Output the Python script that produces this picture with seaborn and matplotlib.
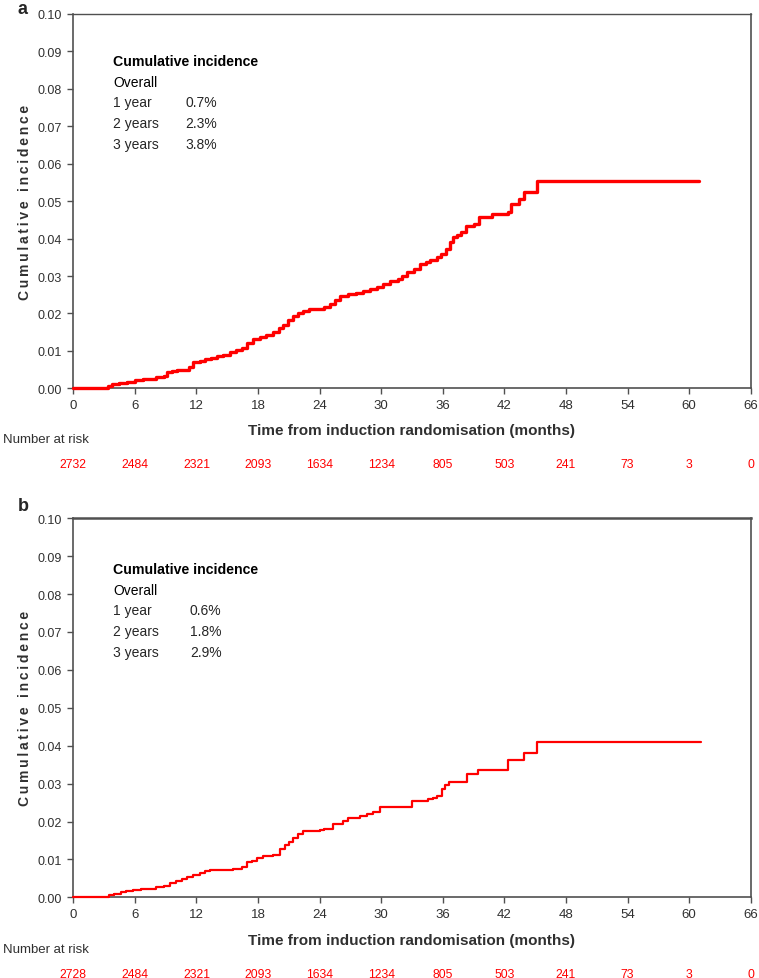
import matplotlib
matplotlib.use("Agg")
import matplotlib.pyplot as plt
import numpy as np
import pandas as pd
import seaborn as sns

# Cumulative incidence step curves (months, incidence)
months_a = [0, 3.4, 3.8, 4.5, 5.2, 6.0, 6.8, 7.6, 8.1, 8.8, 9.1, 9.6, 10.1, 10.8,
            11.3, 11.7, 12.3, 12.8, 13.4, 14.0, 14.6, 15.3, 15.9, 16.4, 16.9, 17.5,
            18.2, 18.8, 19.5, 20.0, 20.4, 20.9, 21.4, 21.9, 22.4, 23.0, 23.7, 24.4,
            25.0, 25.5, 26.0, 26.8, 27.5, 28.2, 28.9, 29.6, 30.2, 30.9, 31.6, 32.0,
            32.5, 33.2, 33.8, 34.4, 34.8, 35.4, 35.8, 36.3, 36.7, 37.0, 37.4, 37.8,
            38.3, 39.0, 39.5, 40.8, 42.4, 42.6, 43.4, 43.9, 45.2, 61.0]
cuminc_a = [0, 0.0006, 0.0011, 0.0015, 0.0018, 0.0022, 0.0024, 0.0026, 0.0029, 0.0034,
            0.0043, 0.0046, 0.0048, 0.0050, 0.0058, 0.0069, 0.0072, 0.0077, 0.0082,
            0.0087, 0.0089, 0.0096, 0.0101, 0.0108, 0.0120, 0.0132, 0.0137, 0.0142,
            0.0150, 0.0160, 0.0170, 0.0182, 0.0194, 0.0201, 0.0207, 0.0211, 0.0213,
            0.0216, 0.0226, 0.0236, 0.0247, 0.0251, 0.0255, 0.0259, 0.0265, 0.0270,
            0.0278, 0.0287, 0.0292, 0.0300, 0.0310, 0.0320, 0.0332, 0.0337, 0.0344,
            0.0350, 0.0358, 0.0372, 0.0390, 0.0403, 0.0410, 0.0417, 0.0434, 0.0440,
            0.0457, 0.0466, 0.0470, 0.0492, 0.0506, 0.0524, 0.0553, 0.0553]

months_b = [0, 3.5, 4.0, 4.6, 5.1, 5.8, 6.6, 7.5, 8.1, 8.8, 9.4, 10.0, 10.6, 11.1,
            11.7, 12.3, 12.8, 13.3, 15.6, 16.4, 16.9, 17.4, 17.9, 18.5, 19.5, 20.1,
            20.6, 21.0, 21.4, 21.9, 22.4, 23.2, 24.0, 24.4, 25.3, 26.3, 26.8, 27.9,
            28.6, 29.2, 29.9, 33.0, 34.6, 35.0, 35.4, 35.9, 36.2, 36.6, 38.4, 39.4,
            42.4, 43.9, 45.2, 61.2]
cuminc_b = [0, 0.0005, 0.0009, 0.0013, 0.0016, 0.0018, 0.0021, 0.0023, 0.0026, 0.0031,
            0.0038, 0.0043, 0.0048, 0.0053, 0.0059, 0.0064, 0.0069, 0.0073, 0.0075,
            0.0079, 0.0092, 0.0097, 0.0103, 0.0108, 0.0112, 0.0127, 0.0138, 0.0147,
            0.0156, 0.0166, 0.0174, 0.0176, 0.0178, 0.0180, 0.0193, 0.0202, 0.0208,
            0.0215, 0.0220, 0.0224, 0.0237, 0.0255, 0.0259, 0.0263, 0.0268, 0.0286,
            0.0296, 0.0305, 0.0325, 0.0337, 0.0363, 0.0381, 0.0411, 0.0411]

risk_months = [0, 6, 12, 18, 24, 30, 36, 42, 48, 54, 60, 66]
at_risk_a = [2732, 2484, 2321, 2093, 1634, 1234, 805, 503, 241, 73, 3, 0]
at_risk_b = [2728, 2484, 2321, 2093, 1634, 1234, 805, 503, 241, 73, 3, 0]

summary_rows = ["1 year", "2 years", "3 years"]
summary_a = ["0.7%", "2.3%", "3.8%"]
summary_b = ["0.6%", "1.8%", "2.9%"]

sns.set_style("ticks")
plt.rcParams["font.family"] = ["Liberation Sans", "DejaVu Sans"]
NARROW = ["Liberation Sans Narrow", "Liberation Sans", "DejaVu Sans"]
RED = "#ff0000"
AX_COL = "#505050"
TXT = "#303030"

W, H = 759, 979
fig = plt.figure(figsize=(W / 100, H / 100), dpi=100)
ax_a = fig.add_axes([73.3 / W, 1 - 389.3 / H, 677.4 / W, 374.3 / H])
ax_b = fig.add_axes([73.3 / W, 1 - 898.3 / H, 677.4 / W, 379.0 / H])

# letter-spaced axis title, as in the original
YLABEL = "\u2009".join("Cumulative incidence")


def draw_panel(ax, months, cuminc, at_risk, values, lw, top_lw, text_y, text_step, pct_x):
    df = pd.DataFrame({"month": months, "cuminc": cuminc})
    sns.lineplot(data=df, x="month", y="cuminc", ax=ax, color=RED, lw=lw,
                 drawstyle="steps-post", estimator=None, legend=False, clip_on=False,
                 zorder=3)
    ax.set_xlim(0, 66)
    ax.set_ylim(0, 0.10)
    ax.set_xticks(risk_months)
    yt = np.round(np.arange(0, 0.101, 0.01), 2)
    ax.set_yticks(yt)
    ax.set_yticklabels([f"{v:.2f}" for v in yt])
    ax.tick_params(direction="out", length=4, width=1.0, color=AX_COL,
                   labelcolor=TXT, pad=4)
    ax.tick_params(axis="y", labelsize=9)
    ax.tick_params(axis="x", labelsize=9.5)
    for lbl in ax.get_xticklabels():
        lbl.set_family(NARROW)
    for side in ["left", "bottom", "right"]:
        ax.spines[side].set_visible(True)
        ax.spines[side].set_color(AX_COL)
        ax.spines[side].set_linewidth(1.2)
    ax.spines["top"].set_visible(True)
    ax.spines["top"].set_color(AX_COL)
    ax.spines["top"].set_linewidth(top_lw)

    ax.set_ylabel(YLABEL, fontsize=10, fontweight="bold", color=TXT)
    ax.yaxis.set_label_coords(-0.061, 0.5)
    ax.set_xlabel("Time from induction randomisation (months)", fontsize=11,
                  fontweight="bold", color=TXT, family=NARROW)
    ax.xaxis.set_label_coords(0.5, -0.093)

    # summary box
    x0 = 0.059
    ax.text(x0, text_y, "Cumulative incidence", transform=ax.transAxes, fontsize=10.2,
            fontweight="bold", va="center", color="black")
    ax.text(x0, text_y - text_step, "Overall", transform=ax.transAxes, fontsize=10,
            va="center", color="black")
    for i, (row, val) in enumerate(zip(summary_rows, values)):
        y = text_y - text_step * (i + 2)
        ax.text(x0, y, row, transform=ax.transAxes, fontsize=10, va="center")
        ax.text(pct_x, y, val, transform=ax.transAxes, fontsize=10, va="center")

    # number at risk table
    ax.text(-0.104, -0.136, "Number at risk", transform=ax.transAxes, fontsize=9.5,
            va="center", ha="left", color=TXT, family=NARROW)
    trans = ax.get_xaxis_transform()
    for m, n in zip(risk_months, at_risk):
        ax.text(m, -0.202, str(n), transform=trans, fontsize=8.8, ha="center",
                va="center", color=RED, family=NARROW)


draw_panel(ax_a, months_a, cuminc_a, at_risk_a, summary_a, 2.4, 1.0, 0.875, 0.0555, 0.165)
draw_panel(ax_b, months_b, cuminc_b, at_risk_b, summary_b, 1.6, 1.8, 0.866, 0.0545, 0.172)

fig.text(22 / W, 1 - 9 / H, "a", fontsize=13, fontweight="bold", ha="center", va="center")
fig.text(23 / W, 1 - 507 / H, "b", fontsize=13, fontweight="bold", ha="center", va="center")

fig.savefig("out.png", dpi=100)
